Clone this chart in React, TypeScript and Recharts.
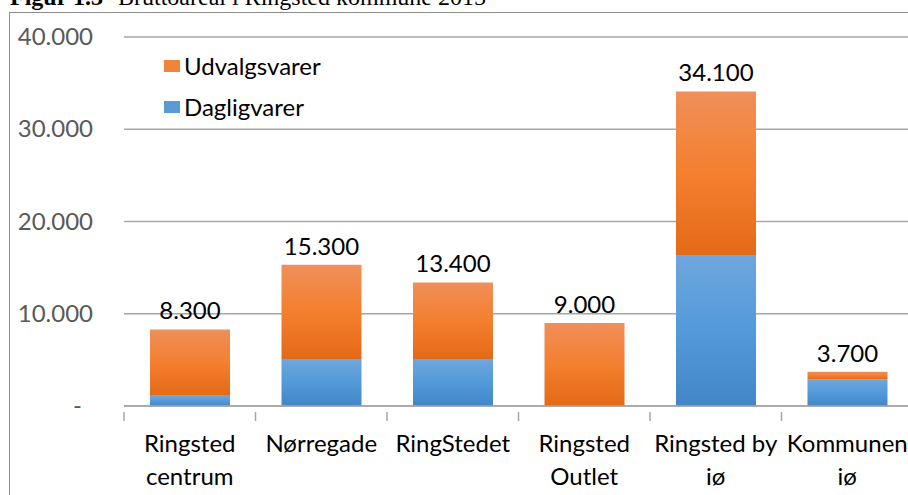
import { BarChart, Bar, XAxis, YAxis, CartesianGrid, LabelList } from 'recharts'

const categories = ['Ringsted\ncentrum', 'Nørregade', 'RingStedet', 'Ringsted\nOutlet', 'Ringsted by\niø', 'Kommunen\niø']
const dagligvarer = [1100, 5100, 5100, 0, 16300, 2900]
const udvalgsvarer = [7200, 10200, 8300, 9000, 17800, 800]
const totals = [8300, 15300, 13400, 9000, 34100, 3700]
const yTicks = [0, 10000, 20000, 30000, 40000]

const FONT = 'Lato, "Open Sans", sans-serif'
const GRID = '#a6a6a6'

const data = categories.map((name, i) => ({
  name,
  dagligvarer: dagligvarer[i],
  udvalgsvarer: udvalgsvarer[i],
  total: totals[i],
}))

function fmt(v: number): string {
  return v.toString().replace(/\B(?=(\d{3})+(?!\d))/g, '.')
}

function YTick(props: any) {
  const { y, payload } = props
  const v = payload.value as number
  return (
    <text x={v === 0 ? 82 : 93} y={y} dy={8} textAnchor="end" fill="#595959" fontSize={24} fontFamily={FONT}>
      {v === 0 ? '-' : fmt(v)}
    </text>
  )
}

function XTick(props: any) {
  const { x, y, payload } = props
  const lines = String(payload.value).split('\n')
  const half = 131.5 / 2
  return (
    <g>
      <line x1={x - half} x2={x - half} y1={y - 2} y2={y + 7} stroke={GRID} strokeWidth={1.5} />
      {lines.map((l, i) => (
        <text key={i} x={x} y={y + 38 + i * 33} textAnchor="middle" fill="#000" fontSize={24} fontFamily={FONT}>
          {l}
        </text>
      ))}
    </g>
  )
}

const legendItems = [
  { label: 'Udvalgsvarer', color: '#f0843a' },
  { label: 'Dagligvarer', color: '#5b9bd5' },
]

export default function App() {
  return (
    <div style={{ position: 'fixed', left: 0, top: 0, width: 908, height: 495, overflow: 'hidden', background: '#fff' }}>
      <svg width={908} height={12} style={{ position: 'absolute', left: 0, top: 0 }}>
        <text x={10} y={5} fontFamily='"Liberation Serif", serif' fontSize={24} fill="#000">
          <tspan fontWeight="bold">Figur 1.3</tspan>
          <tspan x={118}>Bruttoareal i Ringsted kommune 2015</tspan>
        </text>
      </svg>
      <div
        style={{
          position: 'absolute',
          left: 9,
          top: 12,
          width: 920,
          height: 500,
          borderLeft: '1.5px solid #8c8c8c',
          borderTop: '1.5px solid #8c8c8c',
        }}
      />
      <div style={{ position: 'absolute', left: 0, top: 0 }}>
        <BarChart width={930} height={495} data={data} margin={{ top: 37, right: 17, left: 0, bottom: 0 }}>
          <defs>
            <linearGradient id="gradOrange" x1="0" y1="0" x2="0" y2="1">
              <stop offset="0%" stopColor="#ef8f5a" />
              <stop offset="50%" stopColor="#f47f2e" />
              <stop offset="100%" stopColor="#e36a17" />
            </linearGradient>
            <linearGradient id="gradBlue" x1="0" y1="0" x2="0" y2="1">
              <stop offset="0%" stopColor="#6fa6dc" />
              <stop offset="50%" stopColor="#529ada" />
              <stop offset="100%" stopColor="#4386c8" />
            </linearGradient>
          </defs>
          <CartesianGrid vertical={false} stroke={GRID} strokeWidth={1.5} />
          <XAxis
            dataKey="name"
            height={89}
            interval={0}
            tick={<XTick />}
            tickLine={false}
            axisLine={{ stroke: GRID, strokeWidth: 1.5 }}
          />
          <YAxis
            width={124}
            domain={[0, 40000]}
            ticks={yTicks}
            tick={<YTick />}
            tickLine={false}
            axisLine={false}
          />
          <Bar dataKey="dagligvarer" name="Dagligvarer" stackId="a" barSize={80} fill="url(#gradBlue)" isAnimationActive={false} />
          <Bar dataKey="udvalgsvarer" name="Udvalgsvarer" stackId="a" barSize={80} fill="url(#gradOrange)" isAnimationActive={false}>
            <LabelList
              dataKey="total"
              position="top"
              offset={10}
              formatter={(v: any) => fmt(Number(v))}
              fill="#000"
              fontSize={24}
              fontFamily={FONT}
            />
          </Bar>
        </BarChart>
      </div>
      <div style={{ position: 'absolute', left: 164, top: 45, fontFamily: FONT, fontSize: 24, color: '#000' }}>
        {legendItems.map((it) => (
          <div key={it.label} style={{ display: 'flex', alignItems: 'center', height: 41 }}>
            <span style={{ display: 'inline-block', width: 16, height: 12, background: it.color, marginRight: 4 }} />
            <span>{it.label}</span>
          </div>
        ))}
      </div>
    </div>
  )
}
